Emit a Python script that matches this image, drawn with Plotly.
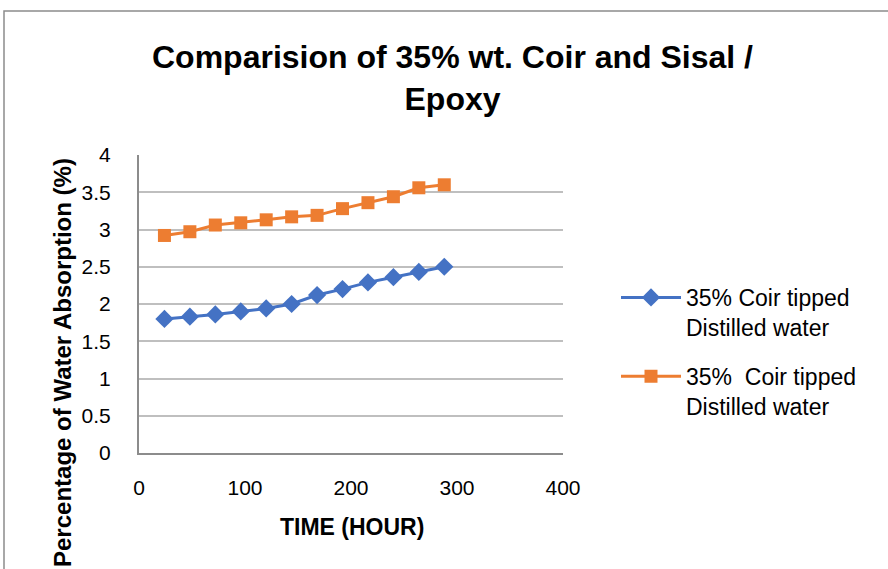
import plotly.graph_objects as go

time_h = [24, 48, 72, 96, 120, 144, 168, 192, 216, 240, 264, 288]
coir_a = [1.80, 1.83, 1.86, 1.90, 1.94, 2.00, 2.12, 2.20, 2.29, 2.36, 2.43, 2.50]
coir_b = [2.92, 2.97, 3.06, 3.09, 3.13, 3.17, 3.19, 3.28, 3.36, 3.44, 3.56, 3.60]
name_a = "35% Coir tipped<br>Distilled water"
name_b = "35%\u00a0 Coir tipped<br>Distilled water"
x_ticks = [0, 100, 200, 300, 400]
y_ticks = [0, 0.5, 1, 1.5, 2, 2.5, 3, 3.5, 4]
y_labels = ["0", "0.5", "1", "1.5", "2", "2.5", "3", "3.5", "4"]

FONT = "Liberation Sans, Arial, sans-serif"
W, H = 888, 569
L, R, T, B = 139, 563, 155, 453

def px_x(p):
    return (p - L) / (R - L)

def px_y(p):
    return (B - p) / (B - T)

fig = go.Figure()
fig.add_trace(go.Scatter(
    x=time_h, y=coir_a, name=name_a, mode="lines+markers", legendgroup="a",
    line=dict(color="#4472C4", width=3),
    marker=dict(symbol="diamond", size=14, color="#4472C4"),
))
fig.add_trace(go.Scatter(
    x=time_h, y=coir_b, name=name_b, mode="lines+markers", legendgroup="b",
    line=dict(color="#ED7D31", width=3),
    marker=dict(symbol="square", size=13, color="#ED7D31"),
))

fig.update_layout(
    width=W, height=H,
    margin=dict(l=L, r=W - R, t=T, b=H - B, pad=0),
    paper_bgcolor="white", plot_bgcolor="white",
    font=dict(family=FONT, size=20, color="#000000"),
    showlegend=True,
    legend=dict(
        x=px_x(616), y=px_y(276), xanchor="left", yanchor="top",
        font=dict(family=FONT, size=23, color="#000000"),
        valign="top", traceorder="grouped", tracegroupgap=16, itemwidth=60,
        bgcolor="rgba(0,0,0,0)",
    ),
    xaxis=dict(
        range=[0, 400], tickvals=x_ticks, showgrid=False,
        showline=True, linecolor="#8c8c8c", linewidth=2,
        ticks="outside", ticklen=15, tickcolor="rgba(0,0,0,0)", zeroline=False,
        tickfont=dict(family=FONT, size=21, color="#000000"),
    ),
    yaxis=dict(
        range=[0, 4], tickvals=y_ticks, ticktext=y_labels,
        showgrid=True, gridcolor="#bfbfbf", gridwidth=1.5,
        showline=True, linecolor="#8c8c8c", linewidth=2,
        ticks="outside", ticklen=22, tickcolor="rgba(0,0,0,0)", zeroline=False,
        tickfont=dict(family=FONT, size=21, color="#000000"),
    ),
    annotations=[
        dict(text="<b>Comparision of 35% wt. Coir and Sisal /<br>Epoxy</b>",
             x=px_x(452), y=px_y(78), xref="paper", yref="paper",
             xanchor="center", yanchor="middle", showarrow=False,
             font=dict(family=FONT, size=32, color="#000000")),
        dict(text="<b>Percentage of Water Absorption (%)</b>",
             x=px_x(62), y=px_y(363), xref="paper", yref="paper",
             xanchor="center", yanchor="middle", showarrow=False, textangle=-90,
             font=dict(family=FONT, size=24, color="#000000")),
        dict(text="<b>TIME (HOUR)</b>",
             x=px_x(352), y=px_y(527), xref="paper", yref="paper",
             xanchor="center", yanchor="middle", showarrow=False,
             font=dict(family=FONT, size=23, color="#000000")),
    ],
    shapes=[
        dict(type="rect", xref="paper", yref="paper",
             x0=px_x(4), x1=px_x(900), y0=px_y(11), y1=px_y(600),
             line=dict(color="#8c8c8c", width=1.5), fillcolor="rgba(0,0,0,0)", layer="below"),
    ],
)

fig.write_html("out.html", config={"displayModeBar": False},
               post_script="document.body.style.margin='0';")
